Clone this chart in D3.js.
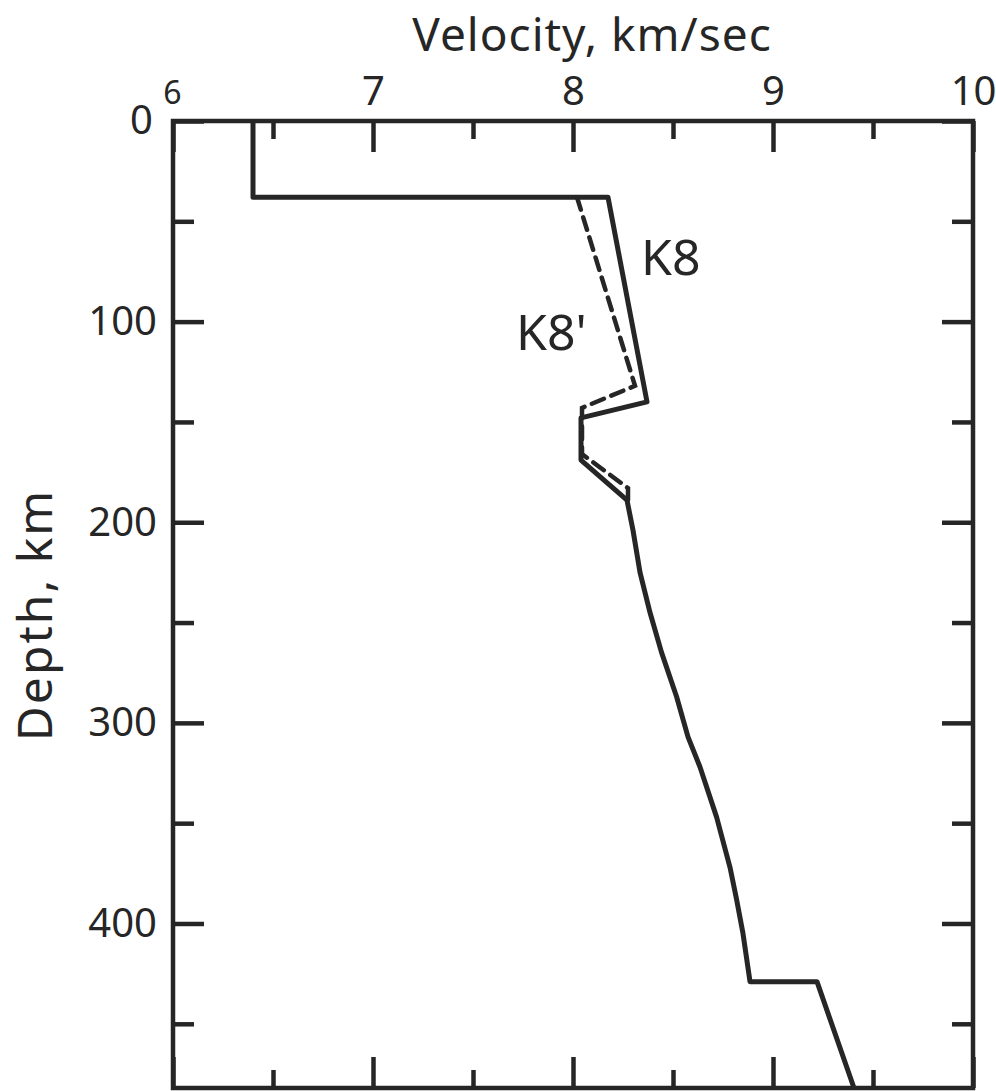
<!DOCTYPE html>
<html>
<head>
<meta charset="utf-8">
<script src="https://cdn.jsdelivr.net/npm/d3@7"></script>
<style>
  body { margin: 0; background: #fff; }
  text { font-family: "Noto Sans", sans-serif; fill: #262626; }
</style>
</head>
<body>
<div id="chart-container"></div>
<script>
// velocity ticks (top/bottom) and depth ticks (left/right)
const velocityMajor = [6, 7, 8, 9, 10];
const velocityMinor = [6.5, 7.5, 8.5, 9.5];
const depthMajor = [0, 100, 200, 300, 400];
const depthMinor = [50, 150, 250, 350, 450];

// K8 model (solid)
const k8Velocity = [6.4, 6.4, 8.175, 8.37, 8.04, 8.04, 8.27, 8.30, 8.335, 8.385, 8.443, 8.518, 8.575, 8.635, 8.718, 8.785, 8.818, 8.85, 8.885, 9.22, 9.405];
const k8Depth    = [0, 38, 38, 140, 148, 169, 189, 204, 225, 245, 265, 287, 307, 322, 347, 372, 388, 405, 429, 429, 482];

// K8' model (dashed)
const k8pVelocity = [8.02, 8.31, 8.045, 8.045, 8.275, 8.275];
const k8pDepth    = [38, 132, 143, 166, 183, 189];

const ink = '#262626';

const svg = d3.select('#chart-container')
  .append('svg')
  .attr('width', 996)
  .attr('height', 1091);

const x = d3.scaleLinear().domain([6, 10]).range([173, 973]);
const y = d3.scaleLinear().domain([0, 482]).range([121, 1088]);

function styleAxis(g) {
  g.select('.domain').remove();
  g.selectAll('.tick line').attr('stroke', ink).attr('stroke-width', 4.5);
}

// top axis with labels
svg.append('g')
  .attr('transform', `translate(0,${y(0)})`)
  .call(d3.axisTop(x).tickValues(velocityMajor).tickSizeInner(-31).tickSizeOuter(0).tickPadding(16).tickFormat(d3.format('d')))
  .call(styleAxis)
  .call(g => g.selectAll('.tick text').attr('font-size', 40).attr('fill', ink))
  .call(g => g.selectAll('.tick').filter(d => d === 6).select('text')
    .attr('font-size', 32).attr('dx', -1).attr('dy', -1));

svg.append('g')
  .attr('transform', `translate(0,${y(0)})`)
  .call(d3.axisTop(x).tickValues(velocityMinor).tickSizeInner(-18).tickSizeOuter(0).tickFormat(''))
  .call(styleAxis);

// bottom axis
svg.append('g')
  .attr('transform', `translate(0,${y(482)})`)
  .call(d3.axisBottom(x).tickValues(velocityMajor).tickSizeInner(-31).tickSizeOuter(0).tickFormat(''))
  .call(styleAxis);

svg.append('g')
  .attr('transform', `translate(0,${y(482)})`)
  .call(d3.axisBottom(x).tickValues(velocityMinor).tickSizeInner(-18).tickSizeOuter(0).tickFormat(''))
  .call(styleAxis);

// left axis with labels
svg.append('g')
  .attr('transform', `translate(${x(6)},0)`)
  .call(d3.axisLeft(y).tickValues(depthMajor).tickSizeInner(-31).tickSizeOuter(0).tickPadding(16).tickFormat(d3.format('d')))
  .call(styleAxis)
  .call(g => g.selectAll('.tick text').attr('font-size', 40).attr('fill', ink))
  .call(g => g.selectAll('.tick').filter(d => d === 0).select('text').attr('dx', -4));

svg.append('g')
  .attr('transform', `translate(${x(6)},0)`)
  .call(d3.axisLeft(y).tickValues(depthMinor).tickSizeInner(-21).tickSizeOuter(0).tickFormat(''))
  .call(styleAxis);

// right axis
svg.append('g')
  .attr('transform', `translate(${x(10)},0)`)
  .call(d3.axisRight(y).tickValues(depthMajor).tickSizeInner(-31).tickSizeOuter(0).tickFormat(''))
  .call(styleAxis);

svg.append('g')
  .attr('transform', `translate(${x(10)},0)`)
  .call(d3.axisRight(y).tickValues(depthMinor).tickSizeInner(-21).tickSizeOuter(0).tickFormat(''))
  .call(styleAxis);

// frame
svg.append('rect')
  .attr('x', x(6))
  .attr('y', y(0))
  .attr('width', x(10) - x(6))
  .attr('height', y(482) - y(0))
  .attr('fill', 'none')
  .attr('stroke', ink)
  .attr('stroke-width', 4.5);

const line = d3.line()
  .x(d => x(d[0]))
  .y(d => y(d[1]));

svg.append('path')
  .datum(d3.zip(k8pVelocity, k8pDepth))
  .attr('d', line)
  .attr('fill', 'none')
  .attr('stroke', ink)
  .attr('stroke-width', 4.5)
  .attr('stroke-dasharray', '13,8')
  .attr('stroke-linecap', 'round');

svg.append('path')
  .datum(d3.zip(k8Velocity, k8Depth))
  .attr('d', line)
  .attr('fill', 'none')
  .attr('stroke', ink)
  .attr('stroke-width', 5)
  .attr('stroke-linejoin', 'round');

// axis titles
svg.append('text')
  .attr('x', 592)
  .attr('y', 51)
  .attr('text-anchor', 'middle')
  .attr('font-size', 46)
  .attr('letter-spacing', 1)
  .text('Velocity,  km/sec');

svg.append('text')
  .attr('transform', 'translate(52,615) rotate(-90)')
  .attr('text-anchor', 'middle')
  .attr('font-size', 48)
  .attr('letter-spacing', 2)
  .text('Depth,  km');

// curve labels
svg.append('text')
  .attr('x', 641)
  .attr('y', 275)
  .attr('font-size', 50)
  .text('K8');

svg.append('text')
  .attr('x', 516)
  .attr('y', 350)
  .attr('font-size', 50)
  .text("K8'");
</script>
</body>
</html>
